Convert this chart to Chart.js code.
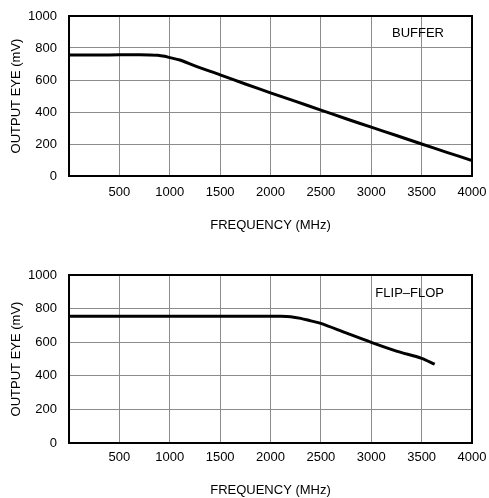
<!DOCTYPE html>
<html>
<head>
<meta charset="utf-8">
<script src="https://cdn.jsdelivr.net/npm/chart.js"></script>
<style>
    body { margin: 0; background: #fff; }
    .wrap { position: absolute; left: 0; width: 489px; }
</style>
</head>
<body>
<div class="wrap" style="top:0; height:250px;"><canvas id="bufferChart"></canvas></div>
<div class="wrap" style="top:250px; height:248px;"><canvas id="flipflopChart"></canvas></div>
<script>
// values (MHz -> mV)
const bufferFreq = [0, 200, 400, 600, 800, 880, 950, 1000, 1100, 1250, 1500, 1750, 2000, 2250, 2500, 2750, 3000, 3250, 3500, 3750, 4000];
const bufferEye  = [757, 757, 757, 758, 757, 755, 748, 740, 725, 688, 632, 575, 520, 466, 412, 358, 305, 253, 200, 148, 97];

const flipFreq = [0, 500, 1000, 1500, 2000, 2100, 2200, 2300, 2400, 2500, 2750, 3000, 3250, 3500, 3630];
const flipEye  = [755, 755, 755, 755, 755, 755, 752, 742, 727, 712, 655, 599, 547, 504, 469];

const xTicks = [0, 500, 1000, 1500, 2000, 2500, 3000, 3500, 4000];
const yTicks = [0, 200, 400, 600, 800, 1000];

const FONT = "'Liberation Sans', Arial, sans-serif";
Chart.defaults.font.family = FONT;
Chart.defaults.font.size = 13;
Chart.defaults.color = '#000';

// black frame round the plot area + the corner label
const framePlugin = {
    id: 'frame',
    afterDraw(chart, args, opts) {
        const { ctx, chartArea: a } = chart;
        ctx.save();
        ctx.strokeStyle = '#000';
        ctx.lineWidth = 2;
        ctx.strokeRect(a.left, a.top, a.right - a.left, a.bottom - a.top);
        ctx.font = '13px ' + FONT;
        ctx.fillStyle = '#000';
        ctx.textAlign = 'right';
        ctx.textBaseline = 'middle';
        ctx.fillText(opts.label, a.right - 28, a.top + opts.labelDy);
        ctx.restore();
    }
};

// fixed axis size, no extra room for overflowing tick labels
function fixSize(s, w, h) {
    if (w != null) s.width = w;
    if (h != null) s.height = h;
    s.paddingTop = s.paddingBottom = s.paddingLeft = s.paddingRight = 0;
}

function makeChart(id, freq, eye, cfg) {
    const ctx = document.getElementById(id).getContext('2d');
    return new Chart(ctx, {
        type: 'line',
        data: {
            datasets: [{
                data: freq.map((f, i) => ({ x: f, y: eye[i] })),
                borderColor: '#000',
                borderWidth: 3,
                pointRadius: 0,
                tension: 0.3,
                fill: false
            }]
        },
        options: {
            responsive: true,
            maintainAspectRatio: false,
            animation: false,
            layout: { padding: { top: cfg.top, right: 17, left: 0, bottom: 0 } },
            plugins: {
                legend: { display: false },
                tooltip: { enabled: false },
                frame: { label: cfg.label, labelDy: cfg.labelDy }
            },
            scales: {
                x: {
                    type: 'linear',
                    min: 0, max: 4000,
                    afterBuildTicks: s => { s.ticks = xTicks.map(v => ({ value: v })); },
                    afterFit: s => fixSize(s, null, cfg.xHeight),
                    grid: { color: '#8c8c8c', lineWidth: 1, drawTicks: false },
                    border: { display: false },
                    ticks: {
                        padding: cfg.xPad,
                        maxRotation: 0,
                        callback: v => v === 0 ? '' : String(v)
                    },
                    title: {
                        display: true,
                        text: 'FREQUENCY (MHz)',
                        font: { size: 13 },
                        padding: { top: 0, bottom: cfg.titlePad }
                    }
                },
                y: {
                    min: 0, max: 1000,
                    afterBuildTicks: s => { s.ticks = yTicks.map(v => ({ value: v })); },
                    afterFit: s => fixSize(s, 69, null),
                    grid: { color: '#8c8c8c', lineWidth: 1, drawTicks: false },
                    border: { display: false },
                    ticks: { padding: 12, callback: v => String(v) },
                    title: {
                        display: true,
                        text: 'OUTPUT EYE (mV)',
                        font: { size: 13 },
                        padding: { top: 9, bottom: 0 }
                    }
                }
            }
        },
        plugins: [framePlugin]
    });
}

makeChart('bufferChart', bufferFreq, bufferEye,
    { top: 16, xHeight: 74, xPad: 9, titlePad: 17, label: 'BUFFER', labelDy: 17 });
makeChart('flipflopChart', flipFreq, flipEye,
    { top: 25, xHeight: 55, xPad: 7, titlePad: 0, label: 'FLIP–FLOP', labelDy: 18 });
</script>
</body>
</html>
